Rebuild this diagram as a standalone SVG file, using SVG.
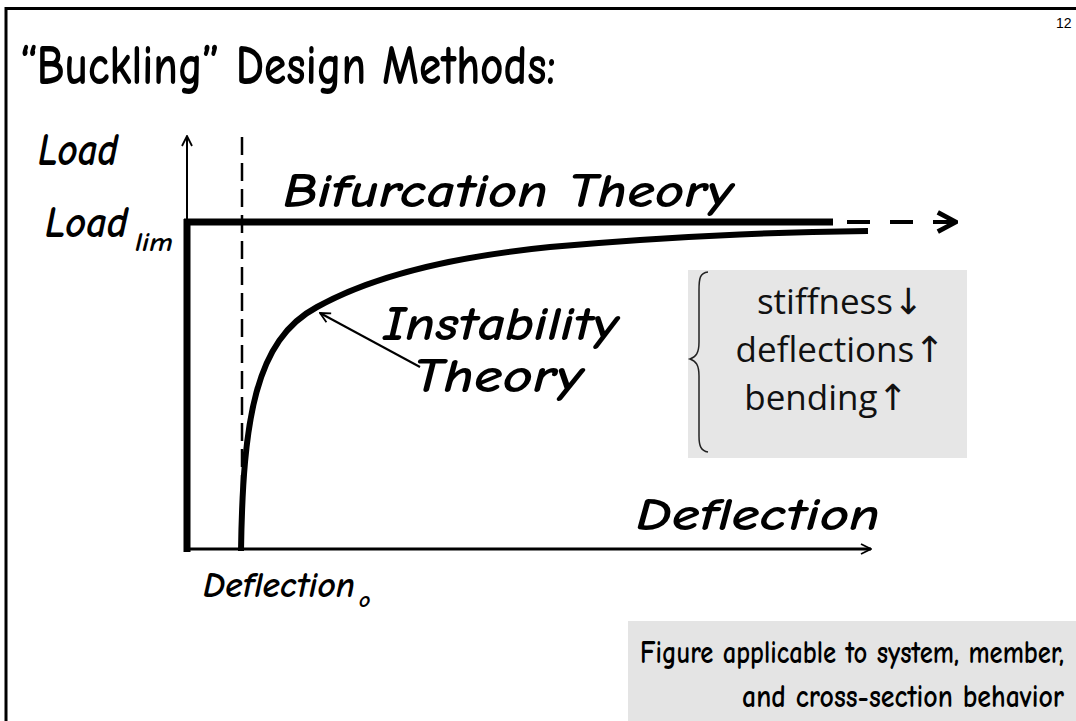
<svg xmlns="http://www.w3.org/2000/svg" width="1076" height="721" viewBox="0 0 1076 721">
  <style>
    .hand { font-family: "Comic Sans MS", "Comic Neue", "DejaVu Sans", sans-serif; font-weight: 700; fill: #000; }
    .ital { font-style: italic; }
    .side { font-family: "Open Sans", "Noto Sans", sans-serif; font-size: 35px; fill: #111; text-anchor: middle; }
    .arw { font-family: "DejaVu Sans", sans-serif; font-size: 36px; }
    .thick { stroke: #000; stroke-width: 7; fill: none; }
    .thin { stroke: #000; stroke-width: 2; fill: none; }
  </style>
  <defs>
    <marker id="chev" viewBox="0 0 12 12" refX="11" refY="6" markerWidth="12" markerHeight="12" markerUnits="userSpaceOnUse" orient="auto">
      <path d="M1,1 L11,6 L1,11" fill="none" stroke="#000" stroke-width="1.8"/>
    </marker>
    <marker id="chevBold" viewBox="0 0 20 20" refX="19" refY="10" markerWidth="24" markerHeight="24" markerUnits="userSpaceOnUse" orient="auto">
      <path d="M3,2 L18,10 L3,18" fill="none" stroke="#000" stroke-width="4"/>
    </marker>
  </defs>

  <rect width="1076" height="721" fill="#fff"/>
  <!-- slide frame: only the top and left edges fall inside the page -->
  <path d="M6,721 L6,8.5 L1076,8.5" fill="none" stroke="#000" stroke-width="3"/>

  <text x="1056" y="28" font-family="Liberation Sans, Arial, sans-serif" font-size="14">12</text>
  <text class="hand" x="20" y="84" font-size="57" textLength="536" lengthAdjust="spacingAndGlyphs">“Buckling” Design Methods:</text>

  <!-- plot axes and curves -->
  <g id="connectors">
    <line class="thin" x1="187" y1="224" x2="187" y2="136" marker-end="url(#chev)"/>
    <line x1="184" y1="549" x2="871" y2="549" stroke="#000" stroke-width="3" marker-end="url(#chev)"/>
    <line x1="242" y1="137" x2="242" y2="548" stroke="#000" stroke-width="2.5" stroke-dasharray="18 8"/>
    <line class="thick" x1="187" y1="219" x2="187" y2="552"/>
    <line class="thick" x1="184" y1="222" x2="833" y2="222"/>
    <line x1="847" y1="222" x2="957" y2="222" stroke="#000" stroke-width="4" stroke-dasharray="23 20" marker-end="url(#chevBold)"/>
    <path d="M241,551 C243,420 255,340 317,307 C380,272 470,255 550,247 C700,234 800,232 868,231" stroke="#000" stroke-width="6" fill="none"/>
    <line class="thin" x1="420" y1="367" x2="320" y2="313" marker-end="url(#chev)"/>
  </g>

  <g id="label-load">
    <text class="hand ital" x="38" y="165" font-size="46" textLength="80" lengthAdjust="spacingAndGlyphs">Load</text>
  </g>
  <g id="label-load-lim">
    <text class="hand ital" x="45" y="237" font-size="44" textLength="83" lengthAdjust="spacingAndGlyphs">Load</text>
    <text class="hand ital" x="135" y="251" font-size="26" textLength="38" lengthAdjust="spacingAndGlyphs">lim</text>
  </g>
  <g id="label-bifurcation">
    <text class="hand ital" x="283" y="207" font-size="48" textLength="450" lengthAdjust="spacingAndGlyphs">Bifurcation Theory</text>
  </g>
  <g id="label-instability">
    <text class="hand ital" x="383" y="340" font-size="48" textLength="235" lengthAdjust="spacingAndGlyphs">Instability</text>
    <text class="hand ital" x="413" y="392" font-size="48" textLength="170" lengthAdjust="spacingAndGlyphs">Theory</text>
  </g>
  <g id="label-deflection">
    <text class="hand ital" x="636" y="530" font-size="46" textLength="244" lengthAdjust="spacingAndGlyphs">Deflection</text>
  </g>
  <g id="label-deflection-o">
    <text class="hand ital" x="203" y="597" font-size="36" textLength="152" lengthAdjust="spacingAndGlyphs">Deflection</text>
    <text class="hand ital" x="359" y="607" font-size="22">o</text>
  </g>

  <g id="effects-box">
    <rect x="688" y="270" width="279" height="188" fill="#e6e6e6"/>
    <path d="M708,272 C700,273 699,278 699,290 L699,342 C699,353 696,357 690,359 C696,361 699,365 699,376 L699,436 C699,446 701,451 708,452" fill="none" stroke="#222" stroke-width="1.5"/>
    <text class="side" x="840" y="314">stiffness<tspan class="arw">↓</tspan></text>
    <text class="side" x="840" y="362">deflections<tspan class="arw">↑</tspan></text>
    <text class="side" x="826" y="410">bending<tspan class="arw">↑</tspan></text>
  </g>

  <g id="note-box">
    <rect x="628" y="621" width="448" height="100" fill="#e4e4e4"/>
    <text class="hand" x="640" y="663" font-size="33" textLength="424" lengthAdjust="spacingAndGlyphs">Figure applicable to system, member,</text>
    <text class="hand" x="742" y="707" font-size="33" textLength="322" lengthAdjust="spacingAndGlyphs">and cross-section behavior</text>
  </g>
</svg>
